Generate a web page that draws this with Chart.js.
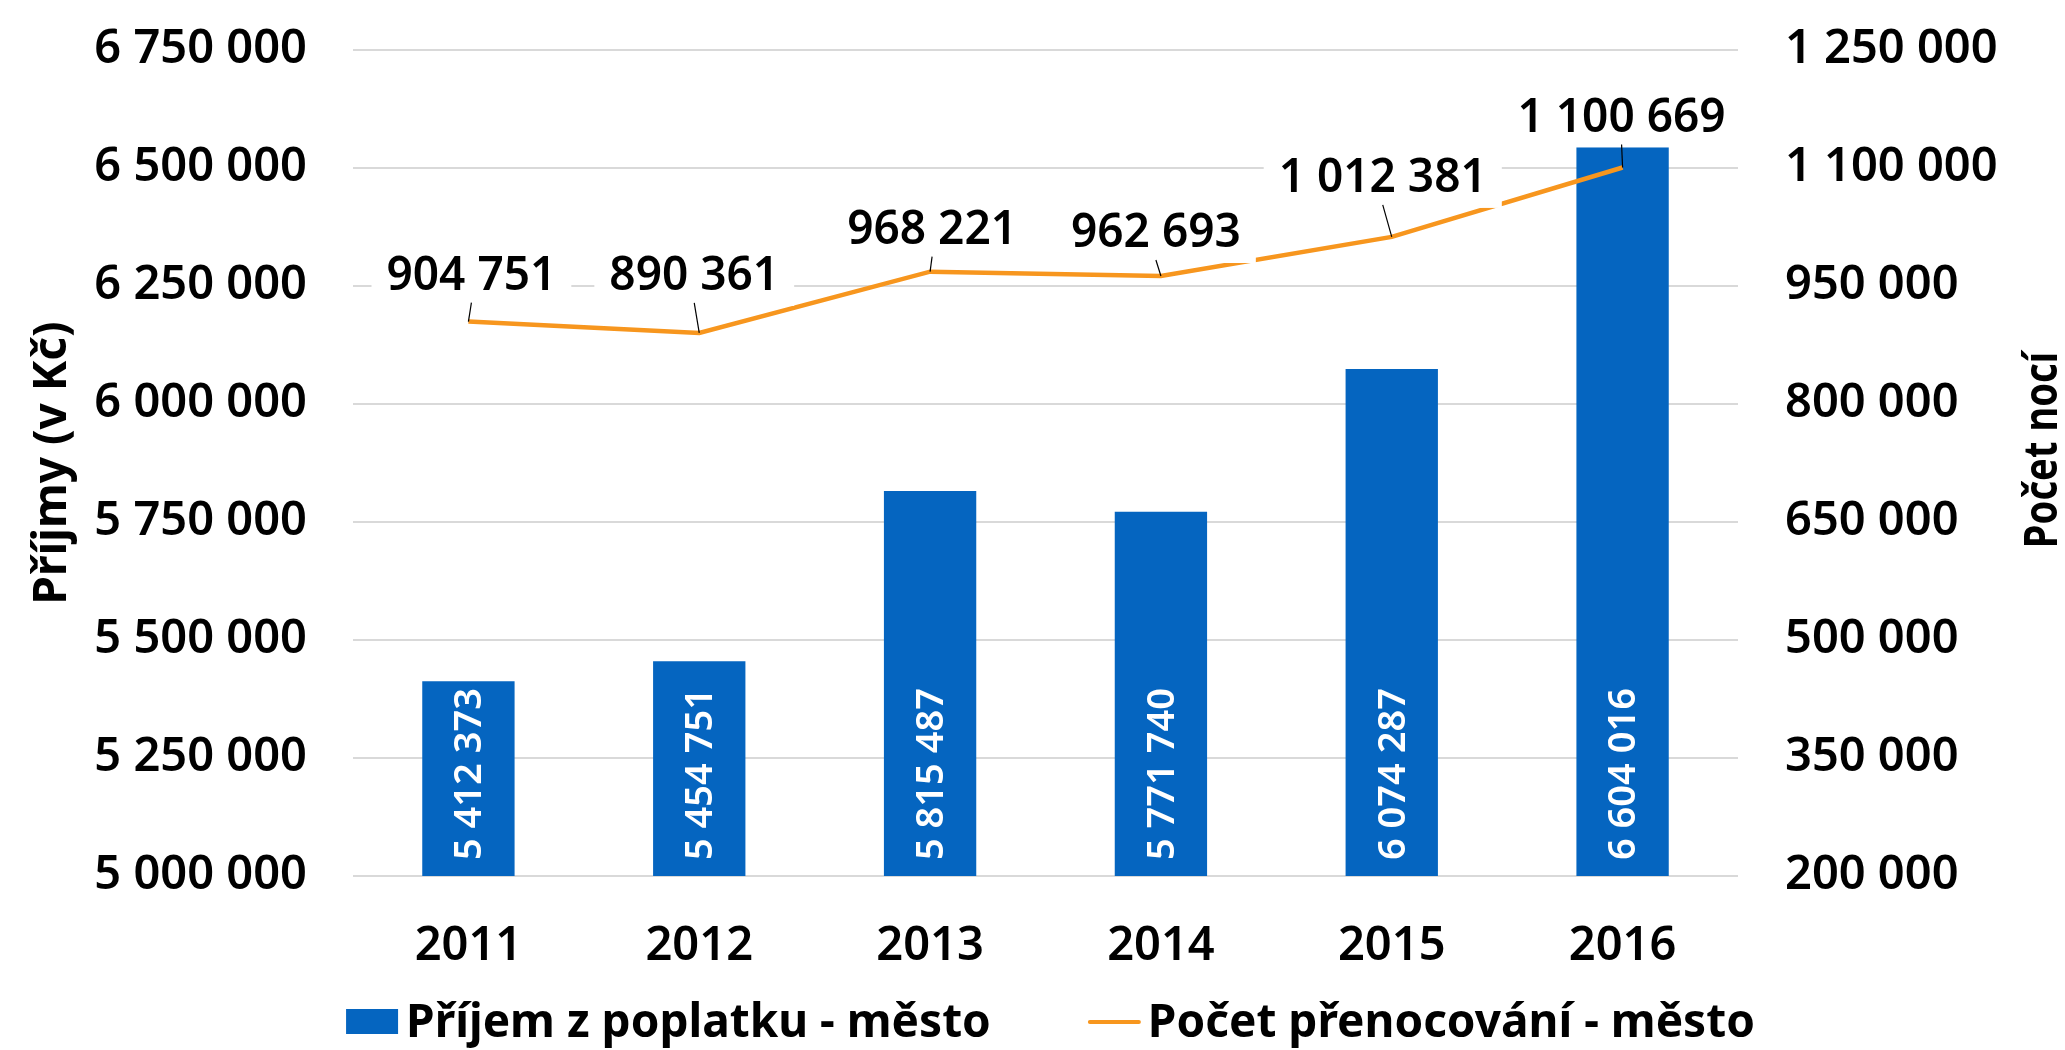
<!DOCTYPE html>
<html><head><meta charset="utf-8">
<script src="https://cdn.jsdelivr.net/npm/chart.js@4.4.1/dist/chart.umd.min.js"></script>
<style>html,body{margin:0;padding:0;background:#fff;overflow:hidden}#wrap{width:2065px;height:1050px;position:relative}canvas{display:block}</style>
</head><body><div id="wrap"><canvas id="c" width="2065" height="1050" style="width:2065px;height:1050px"></canvas></div>
<script>
// ---- data ----
const years = ['2011', '2012', '2013', '2014', '2015', '2016'];
const prijemMesto = [5412373, 5454751, 5815487, 5771740, 6074287, 6547000]; // bar heights as drawn
const prijemPopisky = [5412373, 5454751, 5815487, 5771740, 6074287, 6604016]; // printed bar labels
const pocetPrenocovani = [904751, 890361, 968221, 962693, 1012381, 1100669];
const leftTickValues = [5000000, 5250000, 5500000, 5750000, 6000000, 6250000, 6500000, 6750000];
const rightTickValues = [200000, 350000, 500000, 650000, 800000, 950000, 1100000, 1250000];
const seriesNames = ['Příjem z poplatku - město', 'Počet přenocování - město'];
const axisTitles = ['Příjmy (v Kč)', 'Počet nocí'];

// ---- style ----
const BLUE = '#0565C0';
const ORANGE = '#F7961E';
const FONT = '"Noto Sans", "Open Sans", "DejaVu Sans", sans-serif';
const fmt = v => Math.round(v).toString().replace(/\B(?=(\d{3})+(?!\d))/g, ' ');

const labelPlugin = {
  id: 'customLabels',
  afterDatasetsDraw(chart, args, opts) {
    const ctx = chart.ctx;
    const barMeta = chart.getDatasetMeta(1);
    const yBase = chart.scales.y.getPixelForValue(chart.scales.y.min);
    ctx.save();
    ctx.fillStyle = '#fff';
    ctx.font = '600 38px ' + FONT;
    ctx.textAlign = 'left';
    ctx.textBaseline = 'middle';
    barMeta.data.forEach((bar, i) => {
      ctx.save();
      ctx.translate(bar.x, yBase - 16);
      ctx.rotate(-Math.PI / 2);
      ctx.fillText(fmt(prijemPopisky[i]), 0, 2);
      ctx.restore();
    });
    ctx.restore();
    const lineMeta = chart.getDatasetMeta(0);
    ctx.save();
    ctx.font = '600 46px ' + FONT;
    ctx.textAlign = 'center';
    ctx.textBaseline = 'middle';
    lineMeta.data.forEach((pt, i) => {
      const [dx, dy] = opts.offsets[i];
      const cx = pt.x + dx, cy = pt.y + dy;
      const txt = fmt(pocetPrenocovani[i]);
      const w = ctx.measureText(txt).width + 30;
      const h = 62;
      ctx.fillStyle = '#fff';
      ctx.fillRect(cx - w / 2, cy - h / 2, w, h);
      ctx.strokeStyle = '#000';
      ctx.lineWidth = 1.2;
      ctx.beginPath();
      ctx.moveTo(pt.x, pt.y);
      ctx.lineTo(cx, cy + h / 2 - 3);
      ctx.stroke();
      ctx.fillStyle = '#000';
      ctx.fillText(txt, cx, cy + 2);
    });
    ctx.restore();
  },
  afterDraw(chart, args, opts) {
    const ctx = chart.ctx;
    const area = chart.chartArea;
    ctx.save();
    ctx.font = '700 46px ' + FONT;
    ctx.fillStyle = '#000';
    ctx.textAlign = 'center';
    ctx.textBaseline = 'middle';
    ctx.translate(2044, 450);
    ctx.rotate(-Math.PI / 2);
    ctx.scale(0.83, 1);
    ctx.fillText(axisTitles[1], 0, 0);
    ctx.restore();
    ctx.save();
    ctx.font = '700 46px ' + FONT;
    ctx.textBaseline = 'middle';
    ctx.textAlign = 'left';
    const ds = chart.data.datasets;
    const w1 = ctx.measureText(ds[1].label).width;
    const w2 = ctx.measureText(ds[0].label).width;
    const total = 52 + 8 + w1 + 97 + 53 + 7 + w2;
    let x = (area.left + area.right) / 2 + 5 - total / 2;
    const yc = 1022;
    ctx.fillStyle = ds[1].backgroundColor;
    ctx.fillRect(x, yc - 13, 52, 25);
    x += 60;
    ctx.fillStyle = '#000';
    ctx.fillText(ds[1].label, x, yc + 2);
    x += w1 + 97;
    ctx.strokeStyle = ds[0].borderColor;
    ctx.lineWidth = 4;
    ctx.lineCap = 'round';
    ctx.beginPath();
    ctx.moveTo(x + 2, yc);
    ctx.lineTo(x + 51, yc);
    ctx.stroke();
    x += 60;
    ctx.fillText(ds[0].label, x, yc + 2);
    ctx.restore();
  }
};

const tickFont = { family: FONT, size: 47, weight: 600 };
const noPad = s => { s.paddingTop = 0; s.paddingBottom = 0; };

new Chart(document.getElementById('c'), {
  data: {
    labels: years,
    datasets: [
      {
        type: 'line', label: seriesNames[1], data: pocetPrenocovani, yAxisID: 'y1',
        borderColor: ORANGE, backgroundColor: ORANGE, borderWidth: 4.5, pointRadius: 0,
        fill: false, tension: 0, order: 1
      },
      {
        type: 'bar', label: seriesNames[0], data: prijemMesto, yAxisID: 'y',
        backgroundColor: BLUE, categoryPercentage: 1, barPercentage: 0.4, order: 2
      }
    ]
  },
  options: {
    responsive: false,
    maintainAspectRatio: false,
    animation: false,
    devicePixelRatio: 1,
    layout: { padding: { top: 50, bottom: 70, left: 0, right: 0 } },
    plugins: {
      legend: { display: false },
      tooltip: { enabled: false },
      customLabels: {
        offsets: [[3, -47], [-5, -58], [2, -43], [-5, -44], [-9, -60], [-1, -51]]
      }
    },
    scales: {
      x: {
        grid: { display: false }, border: { display: false },
        ticks: { color: '#000', font: tickFont, padding: 34 },
        afterFit: s => { s.height = 104; }
      },
      y: {
        position: 'left', min: 5000000, max: 6750000,
        afterBuildTicks: s => { s.ticks = leftTickValues.map(v => ({ value: v })); },
        grid: { color: '#d9d9d9', lineWidth: 2, drawTicks: false },
        border: { display: false },
        ticks: { color: '#000', font: tickFont, padding: 46, callback: v => fmt(v) },
        title: { display: true, text: axisTitles[0], color: '#000', font: { family: FONT, size: 46, weight: 700 }, padding: { top: 25, bottom: 0 } },
        afterFit: s => { s.width = 353; noPad(s); }
      },
      y1: {
        position: 'right', min: 200000, max: 1250000,
        afterBuildTicks: s => { s.ticks = rightTickValues.map(v => ({ value: v })); },
        grid: { display: false, drawTicks: false }, border: { display: false },
        ticks: { color: '#000', font: tickFont, padding: 47, callback: v => fmt(v) },
        afterFit: s => { s.width = 327; noPad(s); }
      }
    }
  },
  plugins: [labelPlugin]
});
</script>
</body></html>
